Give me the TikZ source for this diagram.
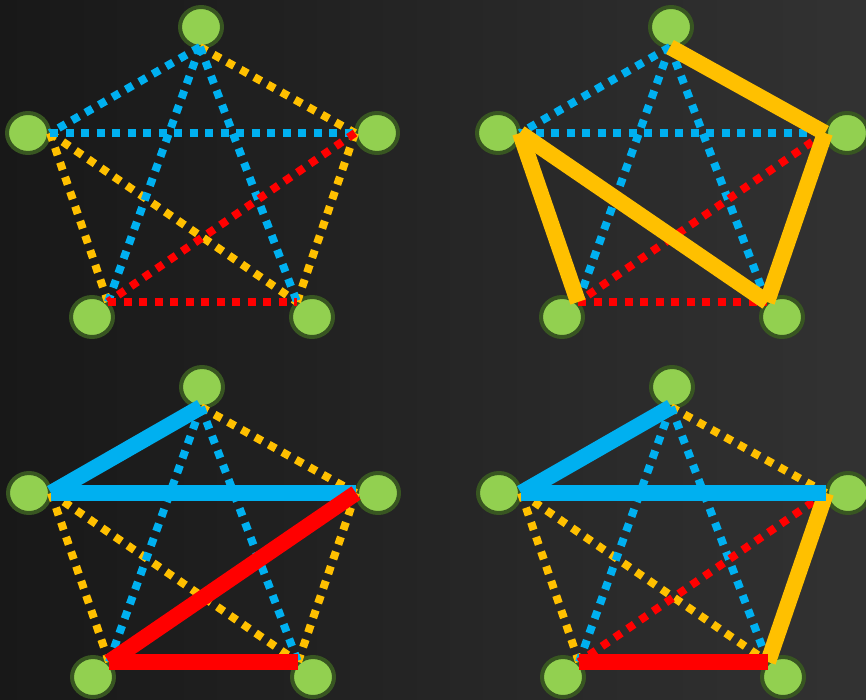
\documentclass[tikz,border=0pt]{standalone}
\usetikzlibrary{shapes.geometric}
\definecolor{bgleft}{RGB}{24,24,24}
\definecolor{bgright}{RGB}{50,50,50}
\definecolor{vfill}{RGB}{146,208,80}
\definecolor{vedge}{RGB}{56,86,33}
\definecolor{eblue}{RGB}{0,176,240}
\definecolor{eyellow}{RGB}{255,192,0}
\definecolor{ered}{RGB}{255,0,0}
\tikzset{
  vertex/.style={ellipse, fill=vfill, draw=vedge, line width=4pt,
    minimum width=42pt, minimum height=40pt, inner sep=0pt},
  dotline/.style={line width=8pt, line cap=butt, dash pattern=on 8pt off 7.5pt},
  fatline/.style={line width=16pt, line cap=butt},
  bdot/.style={dotline, eblue}, ydot/.style={dotline, eyellow}, rdot/.style={dotline, ered},
  bfat/.style={fatline, eblue}, yfat/.style={fatline, eyellow}, rfat/.style={fatline, ered},
}
\begin{document}
\begin{tikzpicture}[x=1pt,y=-1pt]
  \shade[left color=bgleft, right color=bgright] (0,0) rectangle (866,700);
  \useasboundingbox (0,0) rectangle (866,700);

  % four copies of the five-vertex graph: circles and the tips the edges meet at
  \foreach \g/\ox/\oy in {1/0/0, 2/470/0, 3/1/360, 4/471/360} {
    \begin{scope}[shift={(\ox,\oy)}]
      \node[vertex] (g\g t)  at (201,27)  {};
      \node[vertex] (g\g l)  at (28,133)  {};
      \node[vertex] (g\g r)  at (377,133) {};
      \node[vertex] (g\g bl) at (92,317)  {};
      \node[vertex] (g\g br) at (312,317) {};
      \coordinate (p\g t)  at (200,47);
      \coordinate (p\g l)  at (50,133);
      \coordinate (p\g r)  at (355,133);
      \coordinate (p\g bl) at (108,302);
      \coordinate (p\g br) at (297,302);
    \end{scope}
  }

  % graph 1: all dotted
  \draw[ydot] (p1t) -- (p1r);
  \draw[ydot] (p1l) -- (p1bl);
  \draw[ydot] (p1l) -- (p1br);
  \draw[ydot] (p1r) -- (p1br);
  \draw[bdot] (p1t) -- (p1l);
  \draw[bdot] (p1l) -- (p1r);
  \draw[bdot] (p1t) -- (p1bl);
  \draw[bdot] (p1t) -- (p1br);
  \draw[rdot] (p1r) -- (p1bl);
  \draw[rdot] (p1bl) -- (p1br);

  % graph 2: yellow cycle highlighted
  \draw[bdot] (p2t) -- (p2l);
  \draw[bdot] (p2l) -- (p2r);
  \draw[bdot] (p2t) -- (p2bl);
  \draw[bdot] (p2t) -- (p2br);
  \draw[rdot] (p2r) -- (p2bl);
  \draw[rdot] (p2bl) -- (p2br);
  \draw[yfat] (p2t) -- (p2r);
  \draw[yfat] (p2l) -- (p2bl);
  \draw[yfat] (p2l) -- (p2br);
  \draw[yfat] (p2r) -- (p2br);

  % graph 3: blue and red paths highlighted
  \draw[ydot] (p3t) -- (p3r);
  \draw[ydot] (p3l) -- (p3bl);
  \draw[ydot] (p3l) -- (p3br);
  \draw[ydot] (p3r) -- (p3br);
  \draw[bdot] (p3t) -- (p3bl);
  \draw[bdot] (p3t) -- (p3br);
  \draw[bfat] (p3t) -- (p3l);
  \draw[bfat] (p3l) -- (p3r);
  \draw[rfat] (p3r) -- (p3bl);
  \draw[rfat] (p3bl) -- (p3br);

  % graph 4: one edge of each colour highlighted
  \draw[ydot] (p4t) -- (p4r);
  \draw[ydot] (p4l) -- (p4bl);
  \draw[ydot] (p4l) -- (p4br);
  \draw[bdot] (p4t) -- (p4bl);
  \draw[bdot] (p4t) -- (p4br);
  \draw[rdot] (p4r) -- (p4bl);
  \draw[yfat] (p4r) -- (p4br);
  \draw[bfat] (p4t) -- (p4l);
  \draw[bfat] (p4l) -- (p4r);
  \draw[rfat] (p4bl) -- (p4br);
\end{tikzpicture}
\end{document}
